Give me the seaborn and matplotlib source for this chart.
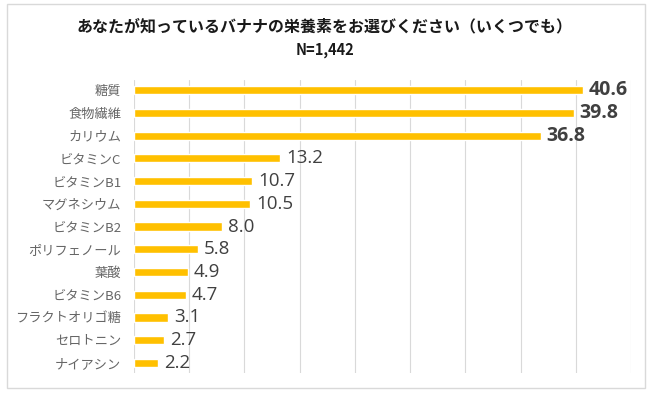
import pandas as pd
import matplotlib.pyplot as plt
import seaborn as sns
from matplotlib.patches import Rectangle

nutrients = ["糖質", "食物繊維", "カリウム", "ビタミンC", "ビタミンB1", "マグネシウム",
             "ビタミンB2", "ポリフェノール", "葉酸", "ビタミンB6", "フラクトオリゴ糖",
             "セロトニン", "ナイアシン"]
percent = [40.6, 39.8, 36.8, 13.2, 10.7, 10.5, 8.0, 5.8, 4.9, 4.7, 3.1, 2.7, 2.2]
title = "あなたが知っているバナナの栄養素をお選びください（いくつでも）"
subtitle = "N=1,442"

df = pd.DataFrame({"nutrient": nutrients, "percent": percent})

sns.set_style("white")
plt.rcParams["font.family"] = ["Noto Sans CJK JP", "DejaVu Sans"]

fig = plt.figure(figsize=(6.5, 3.95), dpi=100)
ax = fig.add_axes([0.206, 0.056, 0.765, 0.741])

sns.barplot(data=df, y="nutrient", x="percent", orient="h", color="#FFC000",
            width=0.36, saturation=1, ax=ax)

ax.set_xlim(0, 45)
ax.set_ylim(12.44, -0.44)
ax.set_xticks(range(0, 46, 5))
ax.set_xticklabels([])
ax.grid(axis="x", color="#d9d9d9", linewidth=0.8)
ax.set_axisbelow(True)
for s in ax.spines.values():
    s.set_visible(False)
ax.tick_params(axis="y", length=0, pad=9, labelsize=9.5, labelcolor="#666666")
ax.tick_params(axis="x", length=0)
ax.set_xlabel("")
ax.set_ylabel("")

for i, v in enumerate(percent):
    if i < 3:
        ax.text(v + 0.55, i, f"{v:.1f}", va="center", ha="left", fontsize=14,
                fontweight="bold", color="#404040", family="Open Sans")
    else:
        ax.text(v + 0.55, i, f"{v:.1f}", va="center", ha="left", fontsize=13.5,
                color="#404040", family="Open Sans")

fig.text(0.5, 0.932, title, ha="center", va="center", fontsize=11.5, fontweight="bold",
         color="#1a1a1a")
fig.text(0.5, 0.873, subtitle, ha="center", va="center", fontsize=10.5, fontweight="bold",
         color="#1a1a1a")

fig.patches.append(Rectangle((7 / 650, 7 / 395), 638 / 650, 384 / 395,
                             transform=fig.transFigure, fill=False,
                             edgecolor="#d9d9d9", linewidth=1))

plt.savefig("out.png", dpi=100)
